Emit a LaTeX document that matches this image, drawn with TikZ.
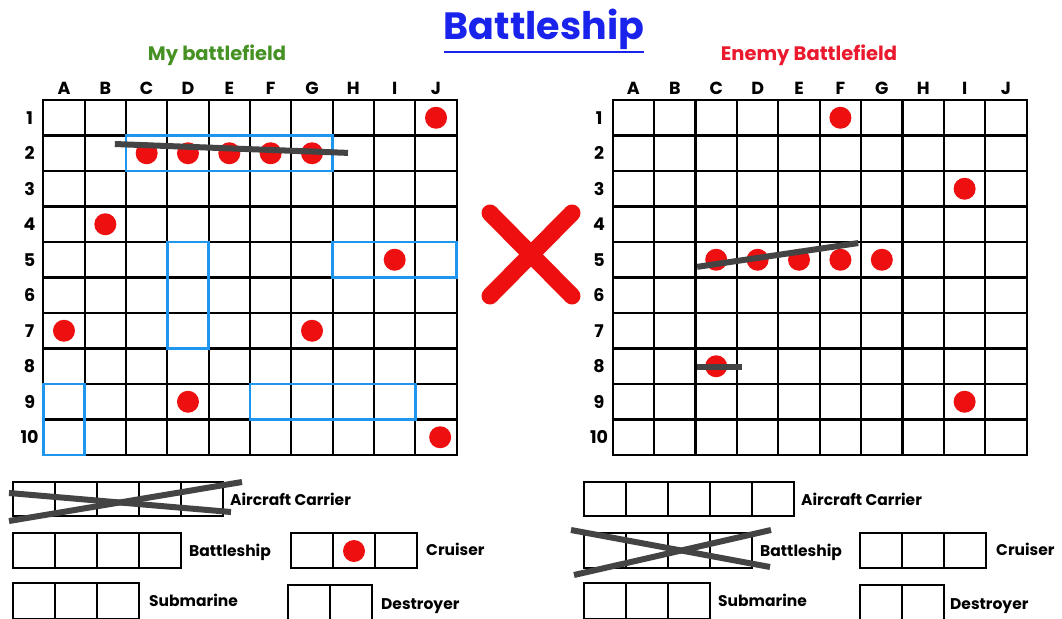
\documentclass[tikz,border=0pt]{standalone}
\usepackage{fontspec}
\setmainfont{Poppins}
\definecolor{shipblue}{RGB}{30,150,240}
\definecolor{hitred}{RGB}{238,16,16}
\definecolor{titleblue}{RGB}{25,35,235}
\definecolor{mygreen}{RGB}{70,145,35}
\definecolor{enemyred}{RGB}{235,25,45}
\definecolor{sunkgray}{RGB}{68,68,68}
\newcommand{\shipcells}[4]{% x0, y0, n, height
  \begin{scope}[xshift=#1pt,yshift=-#2pt,x=42pt,y=-#4pt]
    \foreach \k in {1,...,#3} \draw[legcell] (\k-1,0) rectangle (\k,1);
  \end{scope}}
\begin{document}
\begin{tikzpicture}[x=1pt,y=-1pt,
  gridline/.style={line width=2.1pt,black,line cap=rect},
  shipbox/.style={draw=shipblue,line width=2.6pt},
  sunk/.style={draw=sunkgray,line width=6pt},
  legcell/.style={draw=black,line width=1.4pt},
  lbl/.style={font=\fontsize{17.5}{18}\selectfont\bfseries},
  leglbl/.style={anchor=west,inner sep=0pt,font=\fontsize{15.5}{16}\selectfont\bfseries}]
\clip (0,0) rectangle (1062,618);
\fill[white] (0,0) rectangle (1062,618);

% title and headings
\node[text=titleblue,inner sep=0pt,font=\fontsize{38}{38}\selectfont\bfseries] (title) at (544,29) {Battleship};
\draw[titleblue,line width=2.6pt] ([yshift=-2.5pt]title.south west) -- ([yshift=-2.5pt]title.south east);
\node[text=mygreen,font=\fontsize{19.5}{20}\selectfont\bfseries] (mytitle) at (217,55) {My battlefield};
\node[text=enemyred,font=\fontsize{19.5}{20}\selectfont\bfseries] (enemytitle) at (809,55) {Enemy Battlefield};

% ---------- my battlefield ----------
\begin{scope}[xshift=43.3pt,yshift=-100pt,x=41.34pt,y=-35.5pt]
  \foreach \i in {0,...,10} {
    \draw[gridline] (\i,0) -- (\i,10);
    \draw[gridline] (0,\i) -- (10,\i);
  }
  \foreach \l [count=\c from 0] in {A,B,C,D,E,F,G,H,I,J}
    \node[lbl] (mycol\l) at (\c+0.5,-0.34) {\l};
  \foreach \r in {1,...,10}
    \node[lbl] (myrow\r) at (-0.33,\r-0.5) {\r};
  % ships
  \draw[shipbox] (2,1) rectangle (7,2);
  \draw[shipbox] (3,4) rectangle (4,7);
  \draw[shipbox] (7,4) rectangle (10,5);
  \draw[shipbox] (0,8) rectangle (1,10);
  \draw[shipbox] (5,8) rectangle (9,9);
  % hits
  \foreach \cx/\cy in {9/0,2/1,3/1,4/1,5/1,6/1,1/3,8/4,0/6,6/6,3/8,9.1/9}
    \fill[hitred] (\cx+0.5,\cy+0.5) circle[radius=11pt];
  % sunk carrier
  \draw[sunk] (1.73,1.24) -- (7.37,1.49);
\end{scope}

% ---------- enemy battlefield ----------
\begin{scope}[xshift=612.7pt,yshift=-100pt,x=41.4pt,y=-35.5pt]
  \foreach \i in {0,...,10} {
    \draw[gridline] (\i,0) -- (\i,10);
    \draw[gridline] (0,\i) -- (10,\i);
  }
  \foreach \l [count=\c from 0] in {A,B,C,D,E,F,G,H,I,J}
    \node[lbl] (encol\l) at (\c+0.5,-0.34) {\l};
  \foreach \r in {1,...,10}
    \node[lbl] (enrow\r) at (-0.33,\r-0.5) {\r};
  \foreach \cx/\cy in {5/0,8/2,2/4,3/4,4/4,5/4,6/4,2/7,8/8}
    \fill[hitred] (\cx+0.5,\cy+0.5) circle[radius=11pt];
  \draw[sunk] (2.04,4.70) -- (5.93,4.03);
  \draw[sunk] (2.04,7.52) -- (3.12,7.52);
\end{scope}

% red cross
\draw[hitred,line width=17pt,line cap=round] (490,213) -- (572,296);
\draw[hitred,line width=17pt,line cap=round] (572,213) -- (490,296);

% ---------- my fleet ----------
\shipcells{13}{482}{5}{34}
\shipcells{13}{533}{4}{35}
\shipcells{291}{533}{3}{35}
\shipcells{13}{583}{3}{36}
\shipcells{288}{585}{2}{36}
\fill[hitred] (354,551) circle[radius=11pt];
\draw[sunk] (9,493) -- (231,512);
\draw[sunk] (9,521) -- (242,482);
\node[leglbl] (myac) at (230,499) {Aircraft Carrier};
\node[leglbl] (mybs) at (189,552) {Battleship};
\node[leglbl] (mycr) at (426,549) {Cruiser};
\node[leglbl] (mysb) at (149,600) {Submarine};
\node[leglbl] (myds) at (381,606) {Destroyer};

% ---------- enemy fleet ----------
\shipcells{584}{482}{5}{34}
\shipcells{584}{533}{4}{35}
\shipcells{860}{533}{3}{35}
\shipcells{584}{583}{3}{36}
\shipcells{860}{585}{2}{36}
\draw[sunk] (571,530) -- (770,567);
\draw[sunk] (574,575) -- (771,530);
\node[leglbl] (enac) at (801,499) {Aircraft Carrier};
\node[leglbl] (enbs) at (760,552) {Battleship};
\node[leglbl] (encr) at (996,549) {Cruiser};
\node[leglbl] (ensb) at (718,600) {Submarine};
\node[leglbl] (ends) at (950,606) {Destroyer};
\end{tikzpicture}
\end{document}
